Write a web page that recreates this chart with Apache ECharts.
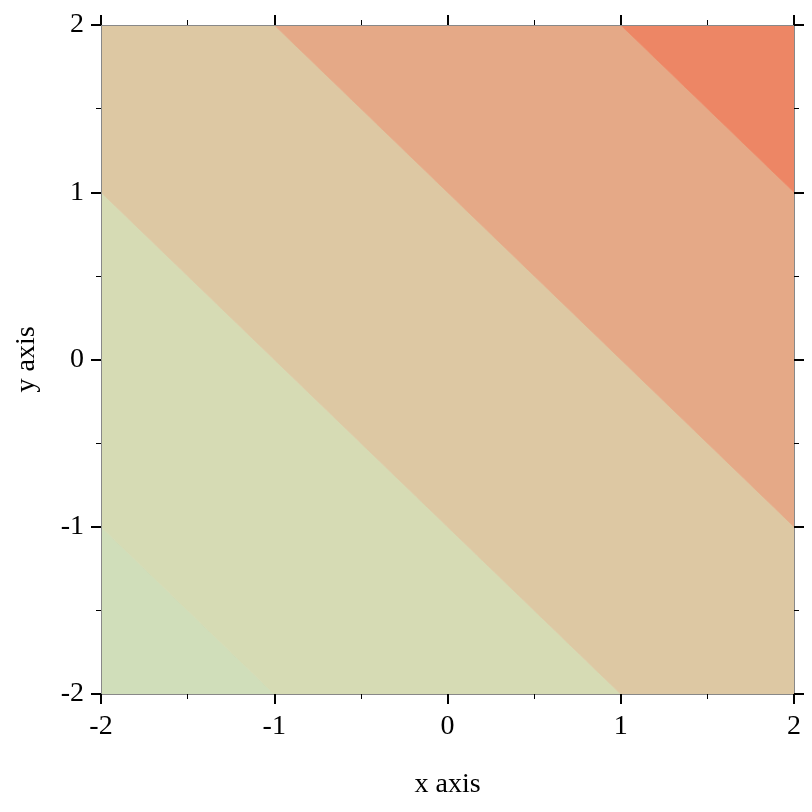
<!DOCTYPE html>
<html>
<head>
<meta charset="utf-8">
<script src="https://cdn.jsdelivr.net/npm/echarts@6/dist/echarts.min.js"></script>
<style>html,body{margin:0;padding:0;background:#fff;}#c{width:812px;height:812px;}</style>
</head>
<body>
<div id="c"></div>
<script>
// Contour bands (data coordinates of each filled region), lowest to highest level
const bandLevels = ['-4 to -3', '-3 to -1', '-1 to 1', '1 to 3', '3 to 4'];
const bandColors = ['#d0deba', '#d6dbb4', '#ddc8a3', '#e5a987', '#ed8665'];
const band1 = [[-2, -2], [-1, -2], [-2, -1]];
const band2 = [[-1, -2], [1, -2], [-2, 1], [-2, -1]];
const band3 = [[1, -2], [2, -2], [2, -1], [-1, 2], [-2, 2], [-2, 1]];
const band4 = [[2, -1], [2, 1], [1, 2], [-1, 2]];
const band5 = [[2, 1], [2, 2], [1, 2]];
const bands = [band1, band2, band3, band4, band5];
const xTicks = [-2, -1, 0, 1, 2];
const yTicks = [-2, -1, 0, 1, 2];

const chart = echarts.init(document.getElementById('c'));
const font = 'Liberation Serif';

function axisCommon(showLabel, margin) {
  return {
    type: 'value', min: -2, max: 2, interval: 1,
    axisLine: { show: true, onZero: false, lineStyle: { color: '#888888', width: 1 } },
    axisTick: { show: true, inside: false, length: 10, lineStyle: { color: '#000', width: 2 } },
    minorTick: { show: true, splitNumber: 2, length: 5, lineStyle: { color: '#000', width: 1 } },
    splitLine: { show: false },
    minorSplitLine: { show: false },
    axisLabel: { show: showLabel, fontFamily: font, fontSize: 28, color: '#000', margin: margin },
    z: 10
  };
}

const series = bands.map((pts, i) => ({
  type: 'custom',
  name: bandLevels[i],
  coordinateSystem: 'cartesian2d',
  clip: true,
  z: 1,
  data: [0],
  renderItem: function (params, api) {
    const p = pts.map(d => api.coord(d));
    return {
      type: 'polygon',
      shape: { points: p },
      style: { fill: bandColors[i], stroke: bandColors[i], lineWidth: 0.8 }
    };
  }
}));

chart.setOption({
  animation: false,
  backgroundColor: '#fff',
  grid: { left: 101, top: 25, width: 693, height: 669 },
  xAxis: [
    Object.assign(axisCommon(true, 19), {
      position: 'bottom', name: 'x axis', nameLocation: 'middle', nameGap: 77,
      nameTextStyle: { fontFamily: font, fontSize: 28, color: '#000' }
    }),
    Object.assign(axisCommon(false, 17), { position: 'top' })
  ],
  yAxis: [
    Object.assign(axisCommon(true, 17), {
      position: 'left', name: 'y axis', nameLocation: 'middle', nameGap: 60,
      nameTextStyle: { fontFamily: font, fontSize: 28, color: '#000' }
    }),
    Object.assign(axisCommon(false, 17), { position: 'right' })
  ],
  series: series
});
</script>
</body>
</html>
